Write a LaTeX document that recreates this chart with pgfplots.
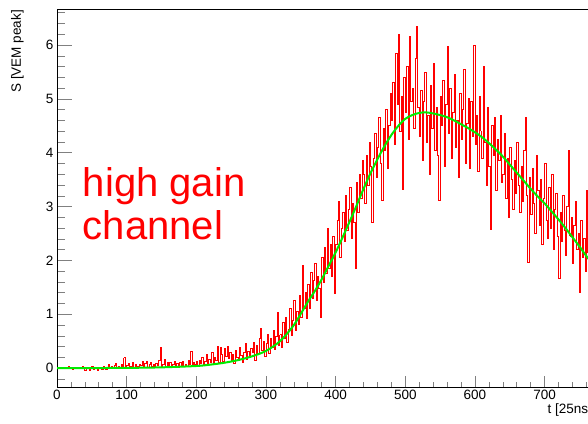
\documentclass[border=0pt]{standalone}
\usepackage{pgfplots}
\pgfplotsset{compat=1.18}
\usepackage{fontspec}
\setmainfont{Liberation Sans}
\definecolor{rootgreen}{RGB}{0,235,0}
\definecolor{histred}{RGB}{255,0,0}
\begin{document}
\begin{tikzpicture}
\begin{axis}[
  at={(0pt,0pt)}, anchor=south west,
  scale only axis, width=535pt, height=378pt,
  xmin=0, xmax=768, ymin=-0.35, ymax=6.67,
  xtick={0,100,...,800}, ytick={-1,0,...,7},
  minor x tick num=4, minor y tick num=4,
  tick pos=left, tick align=inside,
  x tick style={/pgfplots/major tick length=11pt,/pgfplots/minor tick length=5.5pt, line width=0.6pt},
  y tick style={/pgfplots/major tick length=15pt,/pgfplots/minor tick length=8pt, line width=0.6pt},
  axis line style={line width=0.7pt},
  /pgf/number format/assume math mode=true,
  ticklabel style={font=\fontsize{13.5}{16}\selectfont},
  xlabel={t [25ns]}, ylabel={S [VEM peak]},
  xlabel style={font=\fontsize{13.5}{16}\selectfont, at={(axis description cs:1,0)}, anchor=north east, inner sep=0pt, yshift=-17pt},
  ylabel style={font=\fontsize{13.5}{16}\selectfont, at={(axis description cs:0,1)}, anchor=south east, inner sep=0pt, yshift=33pt, xshift=-1pt},
  clip=true,
  hist/.style={const plot mark left, color=histred, line width=0.9pt},
]
\addplot[hist] coordinates {(0,0.01)(2,0.00)(4,0.02)(6,0.01)(8,-0.01)(10,0.02)(12,0.00)(14,0.01)(16,0.03)(18,0.00)(20,0.01)(22,-0.02)(24,0.02)(26,0.00)(28,0.01)(30,0.02)(32,-0.01)};
\addplot[hist] coordinates {(32,-0.01)(34,0.00)(36,0.03)(38,0.01)(40,-0.04)(42,0.02)(44,0.00)(46,-0.05)(48,0.01)(50,0.03)(52,-0.03)(54,0.00)(56,0.02)(58,-0.04)(60,0.01)(62,0.00)(64,-0.03)};
\addplot[hist] coordinates {(64,-0.03)(66,0.04)(68,0.01)(70,-0.02)(72,0.02)(74,0.06)(76,0.00)(78,0.03)(80,0.02)(82,0.05)(84,0.09)(86,0.01)(88,0.04)(90,0.00)(92,0.06)(94,0.03)(96,0.19)};
\addplot[hist] coordinates {(96,0.19)(98,0.02)(100,0.05)(102,0.08)(104,0.01)(106,0.04)(108,0.10)(110,0.02)(112,0.06)(114,0.00)(116,0.03)(118,0.07)(120,0.05)(122,0.12)(124,0.03)(126,0.08)(128,0.13)};
\addplot[hist] coordinates {(128,0.13)(130,0.02)(132,0.07)(134,0.11)(136,0.04)(138,0.06)(140,0.01)(142,0.09)(144,0.05)(146,0.14)(148,0.38)(150,0.03)(152,0.07)(154,0.16)(156,0.02)(158,0.10)(160,0.04)};
\addplot[hist] coordinates {(160,0.04)(162,0.10)(164,0.03)(166,0.06)(168,0.13)(170,0.04)(172,0.08)(174,0.02)(176,0.10)(178,0.05)(180,0.12)(182,0.04)(184,0.07)(186,0.03)(188,0.14)(190,0.06)(192,0.31)};
\addplot[hist] coordinates {(192,0.31)(194,0.04)(196,0.10)(198,0.07)(200,0.12)(202,0.05)(204,0.15)(206,0.08)(208,0.19)(210,0.07)(212,0.13)(214,0.25)(216,0.05)(218,0.16)(220,0.10)(222,0.30)(224,0.08)};
\addplot[hist] coordinates {(224,0.08)(226,0.19)(228,0.14)(230,0.40)(232,0.11)(234,0.38)(236,0.25)(238,0.13)(240,0.36)(242,0.22)(244,0.41)(246,0.18)(248,0.30)(250,0.12)(252,0.26)(254,0.08)(256,0.33)};
\addplot[hist] coordinates {(256,0.33)(258,0.20)(260,0.15)(262,0.38)(264,0.24)(266,0.10)(268,0.29)(270,0.45)(272,0.17)(274,0.31)(276,0.22)(278,0.36)(280,0.30)(282,0.48)(284,0.15)(286,0.42)(288,0.27)};
\addplot[hist] coordinates {(288,0.27)(290,0.55)(292,0.74)(294,0.33)(296,0.50)(298,0.21)(300,0.46)(302,0.62)(304,0.28)(306,0.55)(308,0.38)(310,0.70)(312,0.35)(314,0.58)(316,1.04)(318,0.42)(320,0.62)};
\addplot[hist] coordinates {(320,0.62)(322,0.38)(324,0.85)(326,0.55)(328,0.95)(330,0.48)(332,0.72)(334,1.10)(336,0.60)(338,0.88)(340,1.25)(342,0.70)(344,1.05)(346,0.82)(348,1.35)(350,0.95)(352,1.91)};
\addplot[hist] coordinates {(352,1.91)(354,1.10)(356,1.40)(358,0.92)(360,1.55)(362,1.10)(364,1.78)(366,1.30)(368,1.62)(370,1.95)(372,1.25)(374,1.70)(376,1.48)(378,0.95)(380,2.05)(382,1.60)(384,2.25)};
\addplot[hist] coordinates {(384,2.25)(386,1.75)(388,2.60)(390,1.85)(392,2.30)(394,1.70)(396,2.45)(398,1.39)(400,2.30)(402,2.75)(404,3.10)(406,2.05)(408,2.60)(410,2.90)(412,2.35)(414,3.20)(416,2.55)};
\addplot[hist] coordinates {(416,2.55)(418,2.95)(420,3.35)(422,2.40)(424,3.05)(426,2.70)(428,1.86)(430,3.45)(432,2.90)(434,3.60)(436,3.15)(438,3.85)(440,3.60)(442,3.05)(444,3.95)(446,3.40)(448,4.20)};
\addplot[hist] coordinates {(448,4.20)(450,3.75)(452,2.71)(454,3.90)(456,4.35)(458,3.55)(460,4.10)(462,4.65)(464,3.80)(466,3.12)(468,4.45)(470,4.05)(472,4.80)(474,3.70)(476,4.50)(478,5.10)(480,4.60)};
\addplot[hist] coordinates {(480,4.60)(482,5.30)(484,4.15)(486,5.85)(488,4.90)(490,6.19)(492,4.40)(494,5.05)(496,3.31)(498,5.40)(500,4.75)(502,5.60)(504,4.25)(506,6.16)(508,4.95)(510,5.20)(512,4.45)};
\addplot[hist] coordinates {(512,4.45)(514,5.75)(516,6.34)(518,4.85)(520,4.30)(522,5.15)(524,3.85)(526,4.95)(528,5.50)(530,4.20)(532,4.70)(534,3.60)(536,5.25)(538,4.45)(540,5.65)(542,4.05)(544,4.85)};
\addplot[hist] coordinates {(544,4.85)(546,3.95)(548,3.12)(550,5.05)(552,4.50)(554,5.35)(556,3.75)(558,4.90)(560,5.97)(562,4.35)(564,5.20)(566,3.90)(568,4.75)(570,5.45)(572,4.10)(574,4.60)(576,3.55)};
\addplot[hist] coordinates {(576,3.55)(578,5.10)(580,4.25)(582,4.80)(584,5.55)(586,3.80)(588,4.55)(590,5.00)(592,3.70)(594,4.95)(596,4.30)(598,6.00)(600,4.15)(602,4.70)(604,3.65)(606,5.05)(608,4.40)};
\addplot[hist] coordinates {(608,4.40)(610,3.90)(612,5.60)(614,4.20)(616,3.40)(618,4.85)(620,3.75)(622,2.57)(624,4.50)(626,3.95)(628,4.65)(630,3.30)(632,4.25)(634,3.85)(636,4.70)(638,3.45)(640,3.60)};
\addplot[hist] coordinates {(640,3.60)(642,4.35)(644,3.15)(646,3.90)(648,2.80)(650,4.10)(652,3.50)(654,2.95)(656,3.85)(658,3.25)(660,4.20)(662,3.40)(664,2.90)(666,3.75)(668,3.10)(670,4.05)(672,4.65)};
\addplot[hist] coordinates {(672,4.65)(674,3.20)(676,1.97)(678,3.55)(680,2.85)(682,3.70)(684,3.05)(686,2.50)(688,3.95)(690,3.30)(692,2.65)(694,3.50)(696,2.30)(698,3.15)(700,3.80)(702,2.75)(704,2.40)};
\addplot[hist] coordinates {(704,2.40)(706,3.35)(708,2.60)(710,3.60)(712,2.20)(714,2.95)(716,3.25)(718,2.45)(720,1.67)(722,2.90)(724,2.35)(726,3.20)(728,2.55)(730,2.10)(732,3.00)(734,4.05)(736,2.45)};
\addplot[hist] coordinates {(736,2.45)(738,2.80)(740,1.95)(742,2.65)(744,3.10)(746,2.20)(748,2.50)(750,1.41)(752,2.75)(754,2.05)(756,2.40)(758,1.80)(760,3.30)(762,2.15)(764,1.75)(766,2.45)(768,2.45)};
\addplot[smooth, color=rootgreen, line width=2pt] coordinates {
(0,0.00)(50,0.002)(100,0.005)(150,0.015)(200,0.04)(220,0.065)(240,0.10)(260,0.15)(280,0.22)
(300,0.32)(320,0.50)(340,0.80)(360,1.23)(370,1.43)(380,1.65)(390,1.90)(400,2.15)(410,2.43)
(420,2.72)(430,3.02)(440,3.33)(450,3.62)(460,3.88)(470,4.12)(480,4.33)(490,4.50)(500,4.63)
(510,4.70)(520,4.74)(530,4.75)(540,4.73)(550,4.70)(560,4.66)(570,4.60)(580,4.53)(590,4.46)
(600,4.38)(610,4.29)(620,4.18)(630,4.06)(640,3.93)(650,3.78)(660,3.63)(670,3.48)(680,3.33)
(690,3.19)(700,3.06)(710,2.91)(720,2.76)(730,2.60)(740,2.43)(750,2.26)(760,2.08)(768,1.95)
};
\node[anchor=base west, inner sep=0pt, text=red, font=\fontsize{40}{43}\selectfont] at (axis cs:37,3.18) {high gain};
\node[anchor=base west, inner sep=0pt, text=red, font=\fontsize{40}{43}\selectfont] at (axis cs:37,2.38) {channel};
\end{axis}
\pgfresetboundingbox
\useasboundingbox (-57pt,-36pt) rectangle (531pt,387pt);
\end{tikzpicture}
\end{document}
